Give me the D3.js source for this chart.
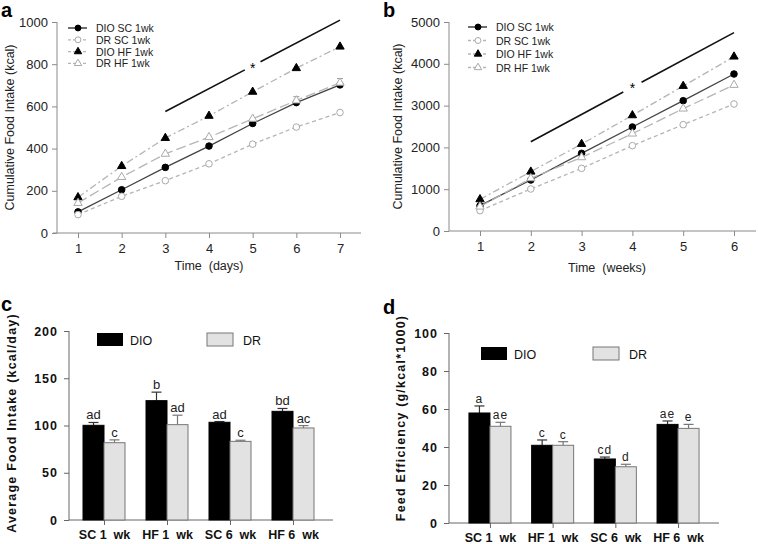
<!DOCTYPE html>
<html><head><meta charset="utf-8">
<script src="https://cdn.jsdelivr.net/npm/d3@7/dist/d3.min.js"></script>
<style>body{margin:0;background:#fff}svg{font-family:"Liberation Sans",Arial,sans-serif}</style>
</head><body>
<svg id="c" width="758" height="544"></svg>
<script>
// ---------- data ----------
const seriesNames = ["DIO SC 1wk","DR SC 1wk","DIO HF 1wk","DR HF 1wk"];
const daysX = [1,2,3,4,5,6,7];
const dayDIO_SC = [100,205,311,412,519,618,702];
const dayDR_SC  = [87,174,248,328,421,502,571];
const dayDIO_HF = [169,317,450,555,669,781,883];
const dayDR_HF  = [142,265,375,454,541,628,712];
const dayErrDIO_SC = [8,8,8,8,8,28,30];
const weeksX = [1,2,3,4,5,6];
const wkDIO_SC = [606,1220,1858,2488,3118,3756];
const wkDR_SC  = [486,1005,1499,2041,2544,3038];
const wkDIO_HF = [758,1419,2081,2767,3469,4171];
const wkDR_HF  = [582,1260,1762,2329,2927,3493];
const sigA = [[3,576],[7,1009]]; const starA = [5,789];
const sigB = [[2,2137],[6,4745]]; const starB = [4,3453];

const groups = ["SC 1  wk","HF 1  wk","SC 6  wk","HF 6  wk"];
const intakeDIO = [100.2,126.3,103.4,115.0];
const intakeDR  = [81.8,100.9,83.2,97.4];
const intakeErrDIO = [3,9,0.8,3];
const intakeErrDR  = [3,10,1.2,2.5];
const intakeLabDIO = ["ad","b","ad","bd"];
const intakeLabDR  = ["c","ad","c","ac"];
const effDIO = [57.9,40.9,33.7,51.9];
const effDR  = [50.9,40.9,29.6,49.8];
const effErrDIO = [3.7,2.8,1.0,1.8];
const effErrDR  = [2.1,1.9,1.3,2.1];
const effLabDIO = ["a","c","cd","ae"];
const effLabDR  = ["ae","c","d","e"];
const yTicksA = [0,200,400,600,800,1000];
const yTicksB = [0,1000,2000,3000,4000,5000];
const yTicksC = [0,50,100,150,200];
const yTicksD = [0,20,40,60,80,100];

const svg = d3.select("#c");
const AX = "#8a8a8a";
const fmt = d3.format("d");

const styles = [
  {line:"#444", dash:null, sym:d3.symbolCircle, fill:"#000", stroke:"#000", size:34},
  {line:"#b5b5b5", dash:"4,3", sym:d3.symbolCircle, fill:"#fff", stroke:"#aaa", size:34},
  {line:"#b5b5b5", dash:"7,3,2,3", sym:d3.symbolTriangle, fill:"#000", stroke:"#000", size:30},
  {line:"#b5b5b5", dash:"10,4", sym:d3.symbolTriangle, fill:"#fff", stroke:"#aaa", size:30}
];

function lineChart(o){
  const g = svg.append("g");
  const x = d3.scaleLinear().domain(o.xdom).range(o.xr);
  const y = d3.scaleLinear().domain([0,o.ymax]).range(o.yr);
  const ya = g.append("g").attr("transform",`translate(${o.yAxisX},0)`)
    .call(d3.axisLeft(y).tickValues(o.yticks).tickFormat(fmt).tickSize(5).tickPadding(4));
  const xa = g.append("g").attr("transform",`translate(0,${o.yr[0]})`)
    .call(d3.axisBottom(x).tickValues(o.xs).tickFormat(fmt).tickSize(5).tickPadding(6));
  [ya,xa].forEach(a=>{a.select(".domain").remove();a.selectAll("line").attr("stroke",AX);
    a.selectAll("text").attr("font-size",13).attr("fill","#222").attr("font-family","Liberation Sans, Arial");});
  g.append("line").attr("x1",o.yAxisX).attr("x2",o.yAxisX).attr("y1",o.yr[0]).attr("y2",o.yr[1]).attr("stroke",AX);
  g.append("line").attr("x1",o.xAxisStart).attr("x2",o.xAxisEnd).attr("y1",o.yr[0]).attr("y2",o.yr[0]).attr("stroke",AX);
  o.series.forEach((vals,i)=>{
    const st = styles[i];
    const pts = o.xs.map((d,j)=>[d,vals[j]]);
    g.append("path").datum(pts).attr("fill","none").attr("stroke",st.line).attr("stroke-width",1.3)
      .attr("stroke-dasharray",st.dash).attr("d",d3.line().x(d=>x(d[0])).y(d=>y(d[1])));
    if(o.errs && o.errs[i]){
      pts.forEach((p,j)=>{const e=o.errs[i][j]; if(!e) return;
        g.append("line").attr("x1",x(p[0])).attr("x2",x(p[0])).attr("y1",y(p[1])).attr("y2",y(p[1]+e)).attr("stroke","#999");
        g.append("line").attr("x1",x(p[0])-3).attr("x2",x(p[0])+3).attr("y1",y(p[1]+e)).attr("y2",y(p[1]+e)).attr("stroke","#999");
      });
    }
    g.selectAll(null).data(pts).enter().append("path")
      .attr("transform",d=>`translate(${x(d[0])},${y(d[1])})`)
      .attr("d",d3.symbol().type(st.sym).size(st.size))
      .attr("fill",st.fill).attr("stroke",st.stroke).attr("stroke-width",1);
  });
  const [p0,p1]=o.sig; const sx=o.star[0];
  const interp = t => [p0[0]+(p1[0]-p0[0])*t, p0[1]+(p1[1]-p0[1])*t];
  const ts=(sx-o.gap-p0[0])/(p1[0]-p0[0]), te=(sx+o.gap-p0[0])/(p1[0]-p0[0]);
  [[0,ts],[te,1]].forEach(([a,b])=>{const A=interp(a),B=interp(b);
    g.append("line").attr("x1",x(A[0])).attr("y1",y(A[1])).attr("x2",x(B[0])).attr("y2",y(B[1]))
      .attr("stroke","#111").attr("stroke-width",1.6);});
  g.append("text").attr("x",x(o.star[0])).attr("y",y(o.star[1])+6).attr("text-anchor","middle")
    .attr("font-size",14).attr("fill","#000").text("*");
  seriesNames.forEach((n,i)=>{
    const st=styles[i]; const ly=o.leg[1]+i*o.legStep;
    g.append("line").attr("x1",o.leg[0]).attr("x2",o.leg[0]+19).attr("y1",ly).attr("y2",ly)
      .attr("stroke",i===0?"#222":st.line).attr("stroke-width",1.3).attr("stroke-dasharray",i===0?null:"3,2");
    g.append("path").attr("transform",`translate(${o.leg[0]+10},${ly})`)
      .attr("d",d3.symbol().type(st.sym).size(st.size*0.8)).attr("fill",st.fill).attr("stroke",st.stroke);
    g.append("text").attr("x",o.leg[0]+28).attr("y",ly+4).attr("font-size",10.5).attr("fill","#222").text(n);
  });
  g.append("text").attr("transform",`translate(${o.ylabX},${(o.yr[0]+o.yr[1])/2}) rotate(-90)`)
    .attr("text-anchor","middle").attr("font-size",12.5).attr("fill","#222").text(o.ylab);
  g.append("text").attr("x",(o.xr[0]+o.xr[1])/2).attr("y",o.xlabY).attr("text-anchor","middle")
    .attr("font-size",12.5).attr("fill","#222").style("white-space","pre").text(o.xlab);
  svg.append("text").attr("x",o.panel[0]).attr("y",o.panel[1]).attr("font-size",20).attr("font-weight","bold").text(o.panelLab);
}

lineChart({xdom:[1,7],xr:[78,340],xs:daysX,ymax:1000,yr:[233,22],yticks:yTicksA,yAxisX:57,xAxisStart:53,xAxisEnd:361,
  series:[dayDIO_SC,dayDR_SC,dayDIO_HF,dayDR_HF],errs:[dayErrDIO_SC],sig:sigA,star:starA,gap:0.18,
  leg:[68,28],legStep:11.8,ylab:"Cumulative Food Intake (kcal)",ylabX:14,xlab:"Time  (days)",xlabY:270,panel:[1,17],panelLab:"a"});
lineChart({xdom:[1,6],xr:[480,734],xs:weeksX,ymax:5000,yr:[231,22],yticks:yTicksB,yAxisX:449,xAxisStart:449,xAxisEnd:756,
  series:[wkDIO_SC,wkDR_SC,wkDIO_HF,wkDR_HF],errs:null,sig:sigB,star:starB,gap:0.18,
  leg:[468,27],legStep:13.5,ylab:"Cumulative Food Intake (kcal)",ylabX:402,xlab:"Time  (weeks)",xlabY:272,panel:[383,17],panelLab:"b"});

function barChart(o){
  const g = svg.append("g");
  const xc = d3.scalePoint().domain(groups).range(o.xr).padding(0.5);
  const y = d3.scaleLinear().domain([0,o.ymax]).range(o.yr);
  const bw = o.bw;
  const ya = g.append("g").attr("transform",`translate(${o.yAxisX},0)`)
    .call(d3.axisLeft(y).tickValues(o.yticks).tickFormat(fmt).tickSize(5).tickPadding(6));
  const xa = g.append("g").attr("transform",`translate(0,${o.yr[0]})`)
    .call(d3.axisBottom(xc).tickSize(5).tickPadding(5));
  [ya,xa].forEach(a=>{a.select(".domain").remove();a.selectAll("line").attr("stroke","#666");
    a.selectAll("text").attr("font-size",12.5).attr("font-weight","bold").attr("fill","#111")
     .attr("font-family","Liberation Sans, Arial").style("white-space","pre");});
  ya.selectAll("text").attr("letter-spacing",1);
  g.append("line").attr("x1",o.yAxisX).attr("x2",o.yAxisX).attr("y1",o.yr[0]).attr("y2",o.yr[1]).attr("stroke","#666");
  g.append("line").attr("x1",o.yAxisX).attr("x2",o.xAxisEnd).attr("y1",o.yr[0]).attr("y2",o.yr[0]).attr("stroke","#666");
  const sets=[{v:o.dio,e:o.edio,l:o.ldio,off:-bw,fill:"#000",stroke:"#000",ec:"#333"},
              {v:o.dr,e:o.edr,l:o.ldr,off:0,fill:"#e2e2e2",stroke:"#777",ec:"#777"}];
  sets.forEach(s=>{
    groups.forEach((gname,i)=>{
      const x0=xc(gname)+s.off, v=s.v[i], top=v+s.e[i];
      g.append("line").attr("x1",x0+bw/2).attr("x2",x0+bw/2).attr("y1",y(v)).attr("y2",y(top)).attr("stroke",s.ec).attr("stroke-width",1.2);
      g.append("line").attr("x1",x0+bw/2-5).attr("x2",x0+bw/2+5).attr("y1",y(top)).attr("y2",y(top)).attr("stroke",s.ec).attr("stroke-width",1.2);
      g.append("rect").attr("x",x0).attr("y",y(v)).attr("width",bw).attr("height",y(0)-y(v))
        .attr("fill",s.fill).attr("stroke",s.stroke).attr("stroke-width",1);
      g.append("text").attr("x",x0+bw/2).attr("y",y(top)-3).attr("text-anchor","middle")
        .attr("font-size",o.labFs).attr("letter-spacing",o.labLs).attr("fill","#222").text(s.l[i]);
    });
  });
  g.append("rect").attr("x",o.leg[0]).attr("y",o.leg[1]).attr("width",26).attr("height",13).attr("fill","#000");
  g.append("text").attr("x",o.leg[0]+33).attr("y",o.leg[1]+12).attr("font-size",12.5).attr("fill","#111").text("DIO");
  g.append("rect").attr("x",o.leg[2]).attr("y",o.leg[1]).attr("width",26).attr("height",13).attr("fill","#e2e2e2").attr("stroke","#777");
  g.append("text").attr("x",o.leg[2]+36).attr("y",o.leg[1]+12).attr("font-size",12.5).attr("fill","#111").text("DR");
  g.append("text").attr("transform",`translate(${o.ylabX},${o.ylabY}) rotate(-90)`)
    .attr("text-anchor","middle").attr("font-size",12.5).attr("font-weight","bold").attr("letter-spacing",1.2)
    .attr("fill","#111").text(o.ylab);
  svg.append("text").attr("x",o.panel[0]).attr("y",o.panel[1]).attr("font-size",20).attr("font-weight","bold").text(o.panelLab);
}

barChart({xr:[72.5,324.5],ymax:200,yr:[520,331],yticks:yTicksC,yAxisX:69,xAxisEnd:333,bw:21,
  dio:intakeDIO,dr:intakeDR,edio:intakeErrDIO,edr:intakeErrDR,ldio:intakeLabDIO,ldr:intakeLabDR,labFs:13,labLs:0,
  leg:[97,333,207],ylab:"Average Food Intake (kcal/day)",ylabX:16,ylabY:423,panel:[1,311],panelLab:"c"});
barChart({xr:[458.6,709.4],ymax:100,yr:[523,333],yticks:yTicksD,yAxisX:449,xAxisEnd:719,bw:21,
  dio:effDIO,dr:effDR,edio:effErrDIO,edr:effErrDR,ldio:effLabDIO,ldr:effLabDR,labFs:12,labLs:1,
  leg:[481,347,593],ylab:"Feed Efficiency (g/kcal*1000)",ylabX:405,ylabY:418,panel:[383,314],panelLab:"d"});
</script>
</body></html>
